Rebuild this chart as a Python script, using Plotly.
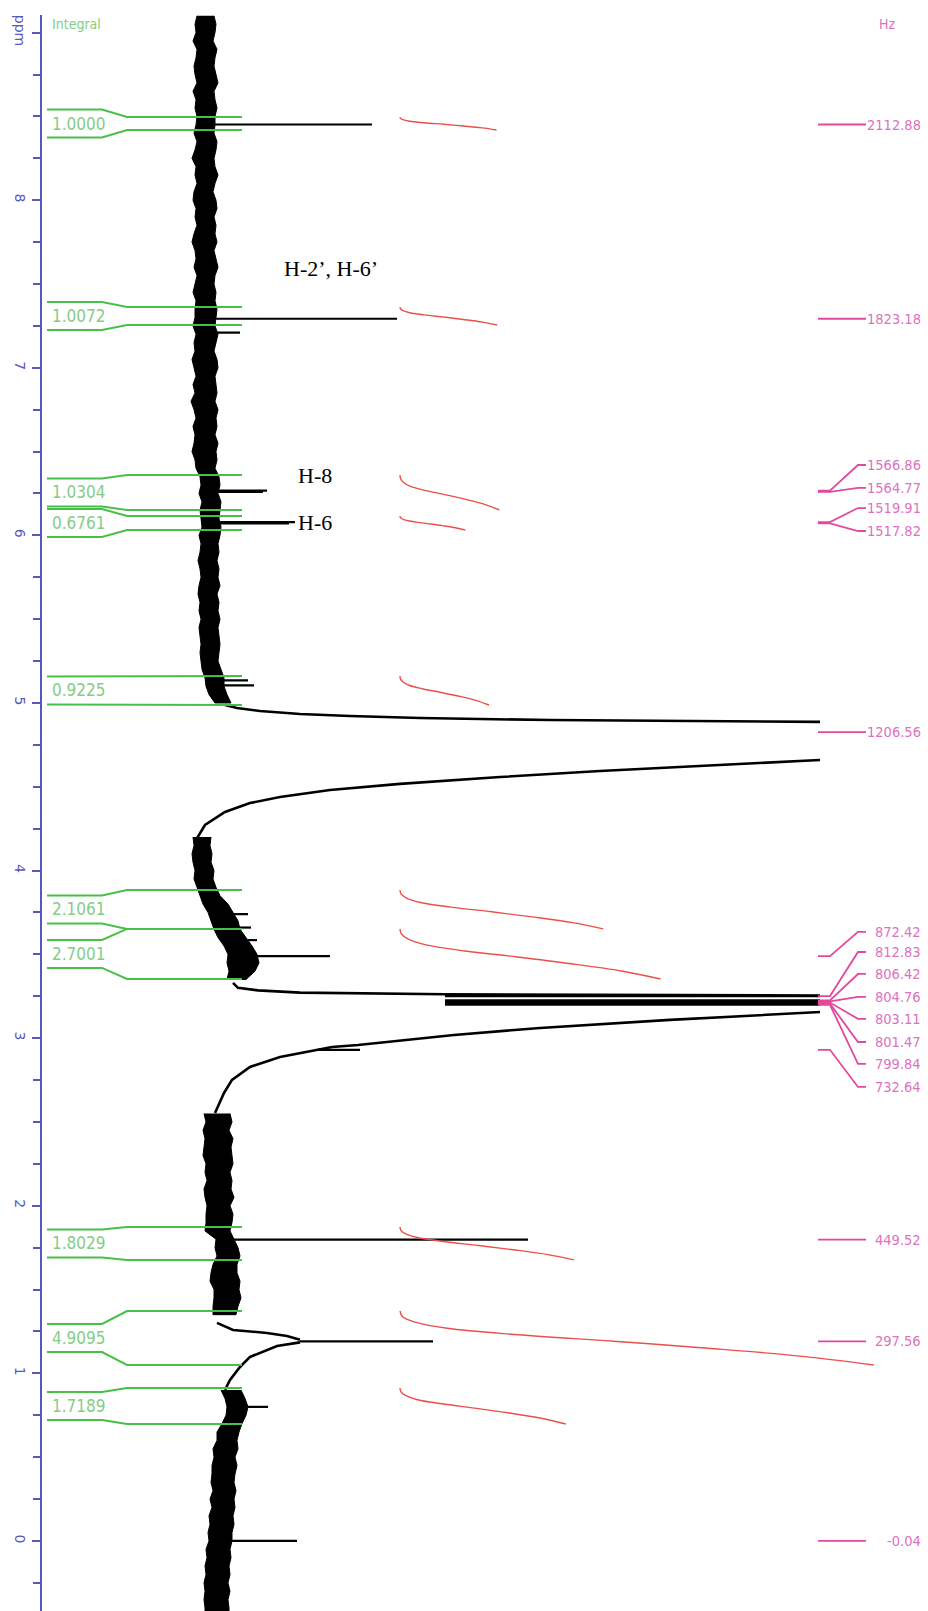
import numpy as np
import plotly.graph_objects as go

SF = 250.0          # spectrometer frequency in MHz (Hz -> ppm)
CLIP = 615          # intensity at which tall peaks leave the plotting window
SHOULDER = 240      # where the methanol multiplet lines rise out of the broad base

# ---------------- baseline noise band (ppm, lower / upper intensity) ----------------
band1_ppm = np.round(np.arange(9.10, 4.999, -0.05), 2)
band1_lo = [-8, -10, -9, -12, -8, -9, -11, -10, -8, -12, -9, -10, -8,
            -9, -11, -8, -10, -13, -9, -10, -8, -11, -12, -9, -10, -8, -11, -13, -10, -9, -11, -8, -10, -12, -9, -10,
            -10, -12, -9, -11, -10, -13, -11, -9, -12, -10, -14, -11, -9, -12, -10, -11, -13, -10, -9,
            -5, -4, -6, -3, -5, -4, -3, -6, -4, -5, -7, -5, -4, -6, -7, -5, -6, -4, -6, -5, -4, -5, -4,
            -3, 0, 1, 4, 10]
band1_hi = [9, 11, 10, 8, 12, 10, 9, 11, 13, 9, 10, 12, 10,
            10, 9, 12, 11, 9, 10, 13, 10, 8, 11, 12, 9, 11, 10, 12, 9, 11, 13, 10, 9, 11, 10, 12,
            11, 10, 13, 11, 9, 12, 13, 10, 11, 12, 10, 13, 11, 12, 10, 13, 11, 12, 10,
            14, 15, 13, 16, 15, 14, 16, 15, 13, 14, 12, 14, 13, 15, 12, 14, 13, 15, 13, 14, 15, 14, 13,
            16, 19, 19, 22, 26]

band2_ppm = np.round(np.arange(4.20, 3.349, -0.05), 2)
band2_lo = [-12, -11, -13, -12, -10, -11, -8, -5, -2, 3, 6, 9, 13, 19, 23, 22, 24, 22]
band2_hi = [6, 5, 7, 6, 9, 8, 11, 15, 23, 28, 33, 35, 41, 47, 52, 54, 50, 41]

band3_ppm = np.round(np.arange(2.55, 1.349, -0.05), 2)
band3_lo = [-1, 1, -2, 0, -1, -2, 1, 0, 2, -1, 0, 2, 1, 1, 0, 11, 10, 12, 8, 6, 5, 9, 9, 8, 8]
band3_hi = [25, 27, 24, 28, 26, 27, 28, 25, 27, 26, 29, 25, 28, 27, 25, 29, 33, 35, 32, 32, 35, 34, 36, 33, 31]

band4_ppm = np.round(np.arange(0.90, -0.451, -0.05), 2)
band4_lo = [16, 20, 22, 21, 17, 12, 12, 8, 9, 7, 7, 6, 8, 5, 7, 4, 5, 3, 4, 1, 2, 0, 1, -1, 0, -1, 0, 0]
band4_hi = [36, 40, 43, 41, 37, 34, 32, 33, 30, 32, 30, 29, 31, 29, 30, 28, 29, 27, 27, 25, 26, 24, 25, 23, 25, 23, 24, 24]

# ---------------- broad solvent / alkyl flanks (ppm, intensity) ----------------
water_up_ppm = [4.988, 4.970, 4.952, 4.934, 4.922, 4.910, 4.898, 4.893, 4.887]
water_up_int = [20, 32, 55, 95, 145, 215, 345, 495, 615]
water_down_ppm = [4.660, 4.624, 4.594, 4.558, 4.517, 4.481, 4.439, 4.403, 4.350, 4.272, 4.183]
water_down_int = [615, 495, 395, 295, 195, 125, 75, 45, 20, 0, -9]

meoh_up_ppm = [3.33, 3.30, 3.285, 3.272, 3.262, 3.255]
meoh_up_int = [28, 33, 53, 95, 240, 615]
meoh_down_ppm = [3.156, 3.109, 3.061, 3.019, 2.959, 2.947, 2.888, 2.828, 2.751, 2.673, 2.554]
meoh_down_int = [615, 465, 335, 249, 153, 127, 75, 45, 27, 19, 10]

ch3_up_ppm = [1.301, 1.259, 1.241, 1.223, 1.200]
ch3_up_int = [12, 28, 62, 82, 95]
ch3_down_ppm = [1.185, 1.163, 1.098, 1.038, 0.961, 0.901]
ch3_down_int = [95, 72, 45, 35, 25, 20]

# ---------------- picked peaks (Hz) and their heights ----------------
peak_hz = [2112.88, 1823.18, 1566.86, 1564.77, 1519.91, 1517.82, 1206.56,
           872.42, 812.83, 806.42, 804.76, 803.11, 801.47, 799.84, 732.64,
           449.52, 297.56, -0.04]
peak_height = [167, 192, 62, 58, 90, 84, None,
               125, CLIP, CLIP, CLIP, CLIP, CLIP, CLIP, 155,
               323, 228, 92]
# small unlabelled spikes (ppm, height)
minor_ppm = [7.21, 5.135, 5.105, 3.74, 3.66, 3.585, 0.80]
minor_height = [35, 43, 49, 43, 46, 52, 63]

# ---------------- integrals ----------------
integral_value = [1.0000, 1.0072, 1.0304, 0.6761, 0.9225, 2.1061, 2.7001, 1.8029, 4.9095, 1.7189]
integral_from = [8.496, 7.363, 6.360, 6.116, 5.161, 3.884, 3.652, 1.873, 1.372, 0.913]
integral_to = [8.419, 7.255, 6.152, 6.032, 4.988, 3.652, 3.353, 1.677, 1.050, 0.698]

# ---------------- assignments ----------------
assign_text = ["H-2\u2019, H-6\u2019", "H-8", "H-6"]
assign_ppm = [7.590, 6.360, 6.074]

# ---------------- layout constants ----------------
PX_PER_PPM = 167.6
BLUE = "#5858b8"
GREEN = "#48c048"
GREEN_TXT = "#86cc86"
RED = "#e8504c"
PINK_LINE = "#e2489e"
PINK_TXT = "#dc72c0"
NARROW = "Liberation Sans Narrow, Arial Narrow, DejaVu Sans Condensed, sans-serif"

# label positions of crowded Hz labels (ppm); None = at the peak
hz_label_ppm = [None, None, 6.420, 6.283, 6.163, 6.026, None,
                3.634, 3.514, 3.383, 3.246, 3.115, 2.977, 2.846, 2.709,
                None, None, None]

fig = go.Figure()

# baseline band
for p, lo, hi in [(band1_ppm, band1_lo, band1_hi), (band2_ppm, band2_lo, band2_hi),
                  (band3_ppm, band3_lo, band3_hi), (band4_ppm, band4_lo, band4_hi)]:
    p = list(p)
    fig.add_trace(go.Scatter(x=list(lo) + list(hi)[::-1], y=p + p[::-1], fill="toself",
                             fillcolor="black", mode="lines", line=dict(color="black", width=1),
                             hoverinfo="skip", showlegend=False))

# broad flanks
for px_, iy in [(water_up_ppm, water_up_int), (water_down_ppm, water_down_int),
                (meoh_up_ppm, meoh_up_int), (meoh_down_ppm, meoh_down_int),
                (ch3_up_ppm, ch3_up_int), (ch3_down_ppm, ch3_down_int)]:
    fig.add_trace(go.Scatter(x=iy, y=px_, mode="lines", line=dict(color="black", width=2.6),
                             hoverinfo="skip", showlegend=False))

# local baseline used as the foot of each spike
foot_p = []
foot_i = []
for p, lo, hi in [(band1_ppm, band1_lo, band1_hi), (band2_ppm, band2_lo, band2_hi),
                  (band3_ppm, band3_lo, band3_hi), (band4_ppm, band4_lo, band4_hi)]:
    foot_p += list(p)
    foot_i += [(a + b) / 2 for a, b in zip(lo, hi)]
for p, i in [(water_up_ppm, water_up_int), (water_down_ppm, water_down_int),
             (meoh_up_ppm, meoh_up_int), (meoh_down_ppm, meoh_down_int),
             (ch3_up_ppm, ch3_up_int), (ch3_down_ppm, ch3_down_int)]:
    foot_p += list(p)
    foot_i += list(i)
order = np.argsort(foot_p)
foot_p = np.array(foot_p)[order]
foot_i = np.array(foot_i)[order]

sx, sy = [], []
for hz, h in zip(peak_hz, peak_height):
    if h is None:
        continue
    ppm = hz / SF
    base = SHOULDER if h == CLIP else float(np.interp(ppm, foot_p, foot_i))
    sx += [base, h, None]
    sy += [ppm, ppm, None]
for ppm, h in zip(minor_ppm, minor_height):
    base = float(np.interp(ppm, foot_p, foot_i))
    sx += [base, h, None]
    sy += [ppm, ppm, None]
fig.add_trace(go.Scatter(x=sx, y=sy, mode="lines", line=dict(color="black", width=2.2),
                         hoverinfo="skip", showlegend=False))

# integral brackets and integral curves
D = 14 / PX_PER_PPM
X_LEFT, X_BEND0, X_BEND1, X_RIGHT = -158, -103, -78, 37
curve_fx = [0, 0.005, 0.03, 0.10, 0.25, 0.45, 0.65, 0.85, 1.0]
curve_fy = [0, 0.10, 0.20, 0.32, 0.44, 0.56, 0.69, 0.84, 1.0]
RED_X0 = 195
RED_PER_UNIT = 96.5
gx, gy = [], []
for val, a, b in zip(integral_value, integral_from, integral_to):
    c = (a + b) / 2
    gx += [X_LEFT, X_BEND0, X_BEND1, X_RIGHT, None, X_LEFT, X_BEND0, X_BEND1, X_RIGHT, None]
    gy += [c + D, c + D, a, a, None, c - D, c - D, b, b, None]
    fig.add_annotation(x=X_LEFT + 3, y=c, text=f"{val:.4f}", showarrow=False, xanchor="left",
                       yanchor="middle", font=dict(family=NARROW, size=17, color=GREEN_TXT))
    w = val * RED_PER_UNIT
    fig.add_trace(go.Scatter(x=[RED_X0 + w * f for f in curve_fx],
                             y=[a - (a - b) * f for f in curve_fy],
                             mode="lines", line=dict(color=RED, width=1.4, shape="spline"),
                             hoverinfo="skip", showlegend=False))
fig.add_trace(go.Scatter(x=gx, y=gy, mode="lines", line=dict(color=GREEN, width=2),
                         hoverinfo="skip", showlegend=False))

# Hz peak labels
S0, S1, S2, S3 = 613, 625, 653, 661
hx, hy = [], []
for hz, lp in zip(peak_hz, hz_label_ppm):
    ppm = hz / SF
    lab = ppm if lp is None else lp
    hx += [S0, S1, S2, S3, None]
    hy += [ppm, ppm, lab, lab, None]
    fig.add_annotation(x=718, y=lab, text=f"{hz:.2f}", showarrow=False, xanchor="right",
                       yanchor="middle", font=dict(family=NARROW, size=14.5, color=PINK_TXT))
fig.add_trace(go.Scatter(x=hx, y=hy, mode="lines", line=dict(color=PINK_LINE, width=1.8),
                         hoverinfo="skip", showlegend=False))

# headers
fig.add_annotation(x=X_LEFT + 3, y=9.05, text="Integral", showarrow=False, xanchor="left",
                   yanchor="middle", font=dict(family=NARROW, size=14, color=GREEN_TXT))
fig.add_annotation(x=682, y=9.05, text="Hz", showarrow=False, xanchor="center",
                   yanchor="middle", font=dict(family=NARROW, size=14, color=PINK_TXT))

# assignments
for t, p, xx in zip(assign_text, assign_ppm, [126, 110, 110]):
    fig.add_annotation(x=xx, y=p, text=t, showarrow=False, xanchor="center", yanchor="middle",
                       font=dict(family="Liberation Serif, Times New Roman, serif", size=22, color="black"))

fig.update_layout(
    width=928, height=1611,
    margin=dict(l=42, r=0, t=15, b=0),
    paper_bgcolor="white", plot_bgcolor="white",
    showlegend=False,
    xaxis=dict(range=[-163, 723], visible=False, fixedrange=True),
    yaxis=dict(range=[-0.418, 9.105], tickvals=list(range(10)),
               ticktext=["0", "1", "2", "3", "4", "5", "6", "7", "8", "ppm"],
               ticks="outside", ticklen=8, tickwidth=1.5, tickcolor=BLUE,
               showline=True, linecolor=BLUE, linewidth=1.5, tickangle=90,
               tickfont=dict(family="DejaVu Sans, sans-serif", size=14, color=BLUE),
               showgrid=False, zeroline=False, automargin=False,
               minor=dict(dtick=0.25, tick0=0, ticks="outside", ticklen=7,
                          tickwidth=1.5, tickcolor=BLUE, showgrid=False)),
)

fig.write_html("out.html")
